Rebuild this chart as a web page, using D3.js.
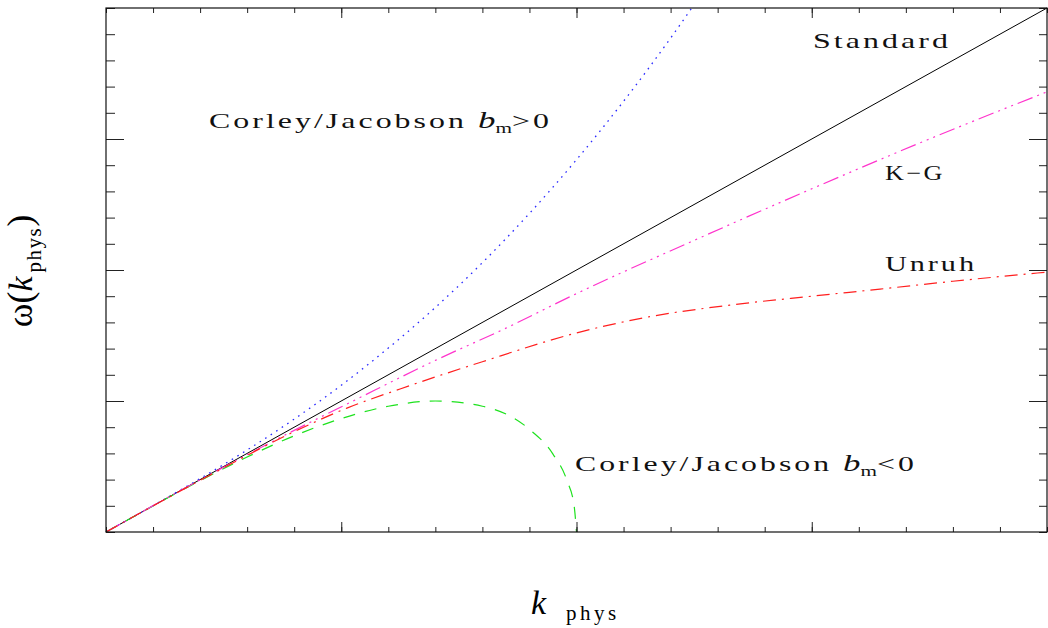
<!DOCTYPE html>
<html><head><meta charset="utf-8">
<script src="https://cdn.jsdelivr.net/npm/d3@7"></script>
<style>body{margin:0;background:#fff}svg{display:block}</style>
</head><body>
<svg id="c" width="1048" height="628"></svg>
<script>
// ---- data ----
const standardK = [0, 20];
const standardW = [0, 20];
const cjPosK = [0, 1, 2, 3, 4, 5, 6, 7, 8, 9, 10, 11, 12, 12.45];
const cjPosW = [0, 1.005, 2.04, 3.13, 4.31, 5.60, 7.02, 8.57, 10.28, 12.16, 14.21, 16.44, 18.85, 20];
const cjNegK = [0, 1, 2, 3, 4, 5, 6, 7, 8, 9, 9.5, 9.8, 9.95, 10];
const cjNegW = [0, 0.995, 1.96, 2.86, 3.67, 4.33, 4.8, 5.0, 4.8, 3.92, 2.97, 1.95, 0.99, 0];
const kgK = [0, 2, 4, 5.25, 7, 8.5, 10, 12.5, 15, 17.5, 20];
const kgW = [0, 1.99, 3.88, 5.0, 6.55, 7.78, 9.1, 11.13, 13.1, 15.0, 16.8];
const unruhK = [0, 2, 4, 5.12, 6.25, 8, 10.07, 11.5, 13.26, 15, 16.45, 18, 20];
const unruhW = [0, 1.97, 3.83, 4.73, 5.46, 6.5, 7.63, 8.2, 8.66, 9.0, 9.27, 9.57, 9.92];
const xMinorTicks = d3.range(0, 21, 1);
const xMajorTicks = [5, 10, 15];
const yMinorTicks = d3.range(0, 21, 1);
const yMajorTicks = [5, 10, 15];

const svg = d3.select("#c");
const L = 106, R = 1047, T = 8, B = 532;
const x = d3.scaleLinear().domain([0, 20]).range([L, R]);
const y = d3.scaleLinear().domain([0, 20]).range([B, T]);

const series = [
  {k: standardK, w: standardW, color: "#000", dash: null, width: 1},
  {k: cjPosK, w: cjPosW, color: "#2b2bff", dash: "1.6,5", width: 1.3},
  {k: cjNegK, w: cjNegW, color: "#1de21d", dash: "12,10", width: 1.2},
  {k: kgK, w: kgW, color: "#ff33cc", dash: "16,5,2,5,2,5,2,5", width: 1.2},
  {k: unruhK, w: unruhW, color: "#ff1f1f", dash: "13,6,2,6", width: 1.2}
];
const line = d3.line().x(d => x(d[0])).y(d => y(d[1])).curve(d3.curveMonotoneX);
svg.append("g").selectAll("path").data(series).join("path")
  .attr("d", s => line(s.k.map((k, i) => [k, s.w[i]])))
  .attr("fill", "none").attr("stroke", s => s.color)
  .attr("stroke-width", s => s.width)
  .attr("stroke-dasharray", s => s.dash);

// axes (ticks inward, no labels)
function ax(gen, scale, vals, size, tr) {
  const g = svg.append("g").attr("transform", tr)
    .call(gen(scale).tickValues(vals).tickSize(size).tickFormat(""));
  g.select(".domain").remove();
  g.selectAll("line").attr("stroke", "#222");
}
ax(d3.axisBottom, x, xMinorTicks, -5, `translate(0,${B})`);
ax(d3.axisBottom, x, xMajorTicks, -10, `translate(0,${B})`);
ax(d3.axisTop, x, xMinorTicks, -5, `translate(0,${T})`);
ax(d3.axisTop, x, xMajorTicks, -10, `translate(0,${T})`);
ax(d3.axisLeft, y, yMinorTicks, -9, `translate(${L},0)`);
ax(d3.axisLeft, y, yMajorTicks, -18, `translate(${L},0)`);
ax(d3.axisRight, y, yMinorTicks, -8, `translate(${R},0)`);
ax(d3.axisRight, y, yMajorTicks, -18, `translate(${R},0)`);
svg.append("rect").attr("x", L).attr("y", T).attr("width", R - L).attr("height", B - T)
  .attr("fill", "none").attr("stroke", "#111").attr("stroke-width", 1.2);

// curve labels
const labelFont = "'Liberation Serif', serif";
const labels = [
  {parts: [["Corley/Jacobson ", 0], ["b", 1], ["m", 2], [">0", 3]], x: 209, y: 128, w: 343},
  {parts: [["Corley/Jacobson ", 0], ["b", 1], ["m", 2], ["<0", 3]], x: 575, y: 471, w: 342},
  {parts: [["Standard", 0]], x: 813, y: 48, w: 138},
  {parts: [["K\u2212G", 0]], x: 885, y: 180, w: 60},
  {parts: [["Unruh", 0]], x: 885, y: 271, w: 92}
];
labels.forEach(lb => {
  const g = svg.append("g");
  const t = g.append("text").attr("x", 0).attr("y", 0)
    .attr("font-family", labelFont).attr("font-size", 21).attr("fill", "#111")
    .attr("letter-spacing", 2);
  lb.parts.forEach(([s, st]) => {
    const ts = t.append("tspan").text(s);
    if (st === 1) ts.attr("font-style", "italic").attr("font-size", 23).attr("letter-spacing", 0);
    if (st === 2) ts.attr("font-size", 14).attr("dy", 5).attr("letter-spacing", 0);
    if (st === 3) ts.attr("dy", -5);
  });
  const len = t.node().getBBox().width;
  g.attr("transform", `translate(${lb.x},${lb.y}) scale(${(lb.w / len).toFixed(4)},1)`);
});

// axis titles
const xt = svg.append("text").attr("x", 531).attr("y", 614).attr("font-family", "'Liberation Serif', serif");
xt.append("tspan").text("k").attr("font-style", "italic").attr("font-size", 34);
xt.append("tspan").text("phys").attr("font-size", 21).attr("dx", 20).attr("dy", 6).attr("letter-spacing", 3.5);

const yt = svg.append("text").attr("transform", "translate(32,271) rotate(-90)")
  .attr("text-anchor", "middle").attr("font-family", "'Liberation Serif', serif");
yt.append("tspan").text("\u03c9").attr("font-size", 36);
yt.append("tspan").text("(").attr("font-size", 36);
yt.append("tspan").text("k").attr("font-style", "italic").attr("font-size", 34);
yt.append("tspan").text("phys").attr("font-size", 21).attr("dx", 4).attr("dy", 9).attr("letter-spacing", 1.5);
yt.append("tspan").text(")").attr("font-size", 36).attr("dy", -9);
</script>
</body></html>
